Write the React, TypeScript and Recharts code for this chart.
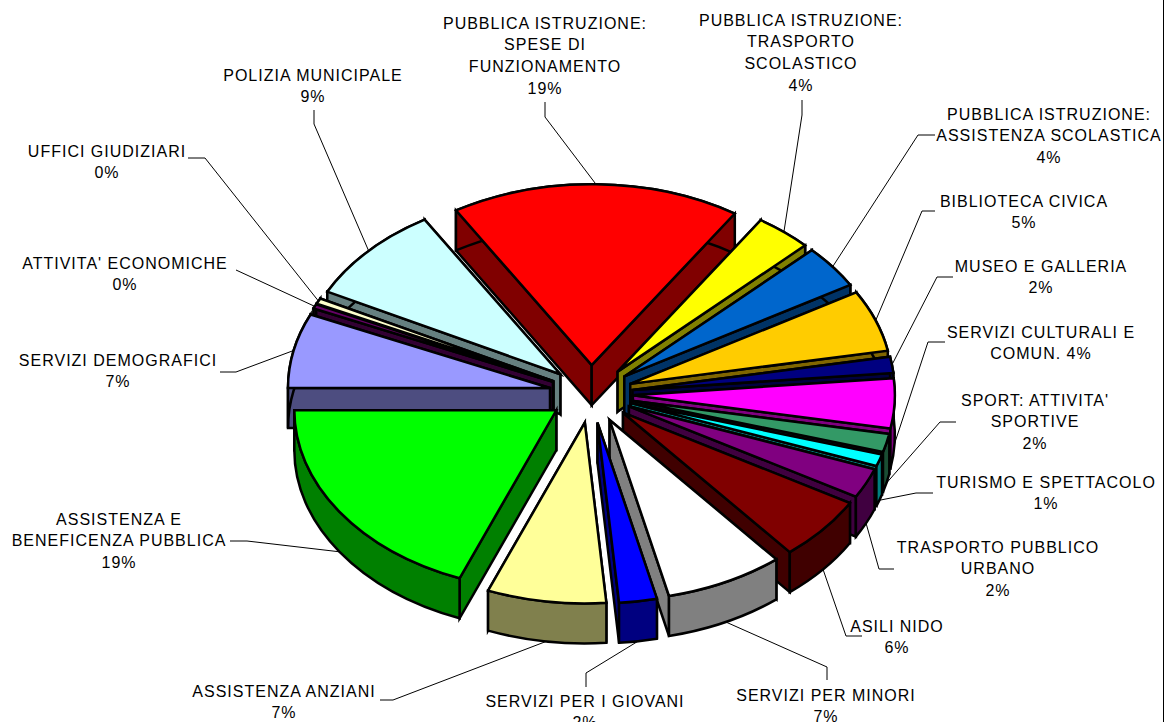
import { Pie, PieChart } from "recharts"

// Spending categories, clockwise from the red slice. \n breaks the label lines.
const CATEGORIES = [
    "PUBBLICA ISTRUZIONE:\nSPESE DI\nFUNZIONAMENTO",
    "PUBBLICA ISTRUZIONE:\nTRASPORTO\nSCOLASTICO",
    "PUBBLICA ISTRUZIONE:\nASSISTENZA SCOLASTICA",
    "BIBLIOTECA CIVICA",
    "MUSEO E GALLERIA",
    "SERVIZI CULTURALI E\nCOMUN. 4%",
    "SPORT: ATTIVITA'\nSPORTIVE",
    "TURISMO E SPETTACOLO",
    "TRASPORTO PUBBLICO\nURBANO",
    "ASILI NIDO",
    "SERVIZI PER MINORI",
    "SERVIZI PER I GIOVANI",
    "ASSISTENZA ANZIANI",
    "ASSISTENZA E\nBENEFICENZA PUBBLICA",
    "SERVIZI DEMOGRAFICI",
    "ATTIVITA' ECONOMICHE",
    "UFFICI GIUDIZIARI",
    "POLIZIA MUNICIPALE",
]

// Printed percentages (the culturali one sits inside its category text)
const PERCENT_LABELS = ["19%", "4%", "4%", "5%", "2%", "", "2%", "1%", "2%", "6%", "7%", "2%", "7%", "19%", "7%", "0%", "0%", "9%"]

// Slice sizes, estimated from the angles as drawn (perspective squeezes the back slices)
const VALUES = [17.86, 3.5, 3.86, 5.5, 1.44, 4.44, 1.64, 1.08, 2.67, 5.69, 7.34, 2.33, 7.33, 18.97, 6.67, 0.39, 0.5, 8.78]

const COLORS = [
    "#ff0000", "#ffff00", "#0066cc", "#ffcc00", "#000080", "#ff00ff", "#339966", "#00ffff", "#800080",
    "#800000", "#ffffff", "#0000ff", "#ffff99", "#00ff00", "#9999ff", "#660066", "#ffffcc", "#ccffff",
]

// Label anchors: centre x and centre y of the first text line
const LABEL_X = [545, 801, 1049, 1024, 1041, 1041, 1035, 1046, 998, 897, 826, 585, 284, 119, 118, 125, 107, 313]
const LABEL_Y = [23, 20, 114, 201, 266, 332, 400, 482, 547, 626, 695, 701, 691, 519, 360, 263, 151, 75]

// Leader lines: from the label to the elbow, the end on the rim is computed
const LEADERS = [
    [[545, 102], [545, 117]],
    [[802, 100], [802, 115]],
    [[935, 135], [918, 135]],
    [[935, 211], [922, 211]],
    [[953, 277], [937, 277]],
    [[945, 342], [928, 342]],
    [[956, 422], [940, 422]],
    [[933, 493], [916, 493]],
    [[894, 569], [879, 569]],
    [[862, 636], [846, 636]],
    [[827, 680], [827, 667]],
    [[586, 687], [586, 673]],
    [[380, 700], [393, 700]],
    [[230, 541], [247, 541]],
    [[220, 372], [236, 372]],
    [[236, 270]],
    [[188, 158], [205, 158]],
    [[314, 110], [314, 124]],
]

const data = VALUES.map((value, i) => ({ name: CATEGORIES[i], value }))
const reversedData = [...data].reverse()

const LAST = VALUES.length - 1
const LAST_RIGHT = 10 // slices up to here are walled in the clockwise pass
const START = 121.2
const TILT = 0.69
const DEPTH = 40
const EXPLODE = 0.16
const LINE_H = 21.7

const rad = (d: number) => (d * Math.PI) / 180

// half of each channel, for the side walls
function shade(hex: string) {
    const n = parseInt(hex.slice(1), 16)
    const h = (v: number) => Math.round(v / 2).toString(16).padStart(2, "0")
    return `#${h((n >> 16) & 255)}${h((n >> 8) & 255)}${h(n & 255)}`
}

function sliceGeometry(p: any) {
    const rx = p.outerRadius
    const ry = rx * TILT
    const from = Math.max(p.startAngle, p.endAngle)
    const to = Math.min(p.startAngle, p.endAngle)
    const mid = rad((from + to) / 2)
    const ox = p.cx + EXPLODE * rx * Math.cos(mid)
    const oy = p.cy - EXPLODE * ry * Math.sin(mid)
    const rim = (deg: number) => [ox + rx * Math.cos(rad(deg)), oy - ry * Math.sin(rad(deg))]
    return { rx, ry, ox, oy, a: rim(from), b: rim(to), large: from - to > 180 ? 1 : 0 }
}

function TopFace(props: any) {
    const { rx, ry, ox, oy, a, b, large } = sliceGeometry(props)
    const d = `M${ox},${oy}L${a[0]},${a[1]}A${rx},${ry} 0 ${large} 1 ${b[0]},${b[1]}Z`
    return <path d={d} fill={COLORS[props.index]} stroke="#000" strokeWidth={2.5} />
}

function Walls({ slice, color }: { slice: any; color: string }) {
    const { rx, ry, ox, oy, a, b, large } = sliceGeometry(slice)
    const z = DEPTH
    const face = (e: number[]) => `M${ox},${oy}L${e[0]},${e[1]}L${e[0]},${e[1] + z}L${ox},${oy + z}Z`
    const outer = `M${a[0]},${a[1]}A${rx},${ry} 0 ${large} 1 ${b[0]},${b[1]}L${b[0]},${b[1] + z}A${rx},${ry} 0 ${large} 0 ${a[0]},${a[1] + z}Z`
    // the radial face whose rim end is higher up sits behind the other one
    const [back, front] = a[1] < b[1] ? [a, b] : [b, a]
    return (
        <g fill={shade(color)} stroke="#000" strokeWidth={2.5}>
            <path d={face(back)} />
            <path d={face(front)} />
            <path d={outer} />
        </g>
    )
}

// Walls go back to front: down the right side, then down the left side
function WallsClockwise(props: any) {
    if (props.index > LAST_RIGHT) return <g />
    return <Walls slice={props} color={COLORS[props.index]} />
}

function WallsCounterClockwise(props: any) {
    const i = LAST - props.index
    if (i <= LAST_RIGHT) return <g />
    return <Walls slice={props} color={COLORS[i]} />
}

function SliceLabel(props: any) {
    const { cx, cy, outerRadius, midAngle, index } = props
    const rx = outerRadius * (1 + EXPLODE)
    const ry = outerRadius * TILT * (1 + EXPLODE)
    const m = rad(midAngle)
    const ex = cx + rx * Math.cos(m)
    // the front half of the rim: the line lands on the lower edge of the wall
    const ey = cy - ry * Math.sin(m) + (Math.sin(m) < 0 ? DEPTH : 0)
    const pts = [...LEADERS[index], [ex, ey]].map((q) => q.join(",")).join(" ")
    const lines = CATEGORIES[index].split("\n")
    if (PERCENT_LABELS[index]) lines.push(PERCENT_LABELS[index])
    return (
        <g>
            <polyline points={pts} fill="none" stroke="#000" strokeWidth={1} />
            <text
                textAnchor="middle"
                fontFamily="'Liberation Sans', Arial, sans-serif"
                fontSize={16}
                letterSpacing={1}
                fill="#000"
                stroke="none"
            >
                {lines.map((line, i) => (
                    <tspan key={i} x={LABEL_X[index]} y={LABEL_Y[index] + i * LINE_H + 5.5}>
                        {line}
                    </tspan>
                ))}
            </text>
        </g>
    )
}

export default function App() {
    return (
        <div style={{ position: "absolute", left: 0, top: 0, width: 1165, height: 722, background: "#fff", overflow: "hidden" }}>
            <PieChart width={1165} height={722} margin={{ top: 0, right: 0, bottom: 0, left: 0 }}>
                <Pie
                    data={data}
                    dataKey="value"
                    cx={591}
                    cy={394}
                    outerRadius={262}
                    startAngle={START}
                    endAngle={START - 360}
                    stroke="none"
                    shape={WallsClockwise}
                    isAnimationActive={false}
                />
                <Pie
                    data={reversedData}
                    dataKey="value"
                    cx={591}
                    cy={394}
                    outerRadius={262}
                    startAngle={START}
                    endAngle={START + 360}
                    stroke="none"
                    shape={WallsCounterClockwise}
                    isAnimationActive={false}
                />
                <Pie
                    data={data}
                    dataKey="value"
                    cx={591}
                    cy={394}
                    outerRadius={262}
                    startAngle={START}
                    endAngle={START - 360}
                    stroke="none"
                    shape={TopFace}
                    label={SliceLabel}
                    labelLine={false}
                    isAnimationActive={false}
                />
            </PieChart>
            <div style={{ position: "absolute", left: 1163, top: 0, width: 1, height: 722, background: "#000" }} />
        </div>
    )
}
